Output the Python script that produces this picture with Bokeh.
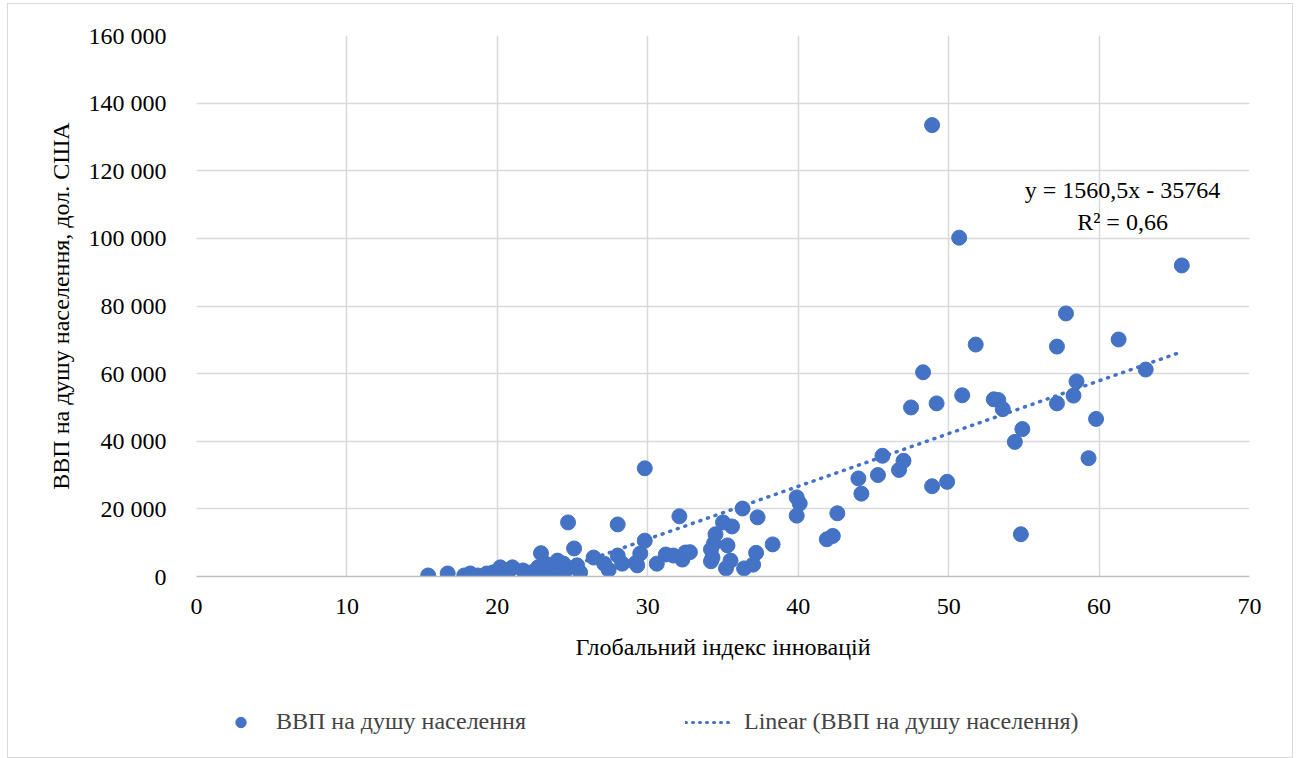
from bokeh.plotting import figure
from bokeh.layouts import column
from bokeh.models import (ColumnDataSource, Legend, LegendItem, Label, FixedTicker)
from bokeh.embed import file_html
from bokeh.resources import INLINE

# ---- data ----
gii = [15.4, 16.7, 17.8, 18.2, 18.7, 19.3, 19.7, 20.0, 20.2, 20.4,
       20.7, 21.0, 21.7, 22.2, 22.4, 22.7, 22.9, 23.0, 23.2, 23.5,
       23.7, 24.0, 24.2, 24.4, 24.5, 24.7, 25.1, 25.5, 25.3, 26.4,
       27.1, 27.4, 28.0, 28.0, 28.3, 29.2, 29.5, 29.3, 29.8, 29.8,
       30.6, 31.2, 31.7, 32.1, 32.3, 32.5, 32.8, 34.2, 34.3, 34.2,
       34.4, 34.5, 35.0, 35.3, 35.6, 35.2, 35.5, 36.3, 36.4, 37.0,
       37.2, 37.3, 38.3, 39.9, 40.1, 39.9, 41.9, 42.3, 42.6, 44.0,
       44.2, 45.3, 45.6, 46.7, 47.0, 47.5, 48.3, 48.9, 48.9, 49.2,
       49.9, 50.7, 50.9, 51.8, 53.0, 53.3, 53.6, 54.4, 54.8, 54.9,
       57.2, 57.2, 57.8, 58.3, 58.5, 59.3, 59.8, 61.3, 63.1, 65.5]
gdp = [300, 900, 300, 900, 300, 900, 1200, 100, 2700, 300,
       1000, 2700, 1800, 1200, 100, 2700, 6900, 500, 3800, 1800,
       500, 4700, 300, 3800, 1500, 16000, 8300, 1200, 3300, 5600,
       3800, 2000, 6200, 15400, 3800, 4000, 6800, 3300, 10600, 32000,
       3800, 6500, 6200, 17800, 5000, 7100, 7200, 4500, 5600, 8000,
       9800, 12500, 16000, 9200, 14800, 2400, 4700, 20100, 2400, 3500,
       7000, 17500, 9500, 23400, 21600, 18000, 11000, 12000, 18700, 29000,
       24500, 30000, 35700, 31500, 34200, 50000, 60400, 133500, 26700, 51200,
       28000, 100200, 53600, 68600, 52400, 52200, 49500, 39800, 12500, 43600,
       68000, 51200, 77800, 53500, 57700, 35000, 46600, 70100, 61200, 92000]

trend_slope = 1560.5
trend_intercept = -35764
trend_text = ["y = 1560,5x - 35764", "R² = 0,66"]

x_ticks = [0, 10, 20, 30, 40, 50, 60, 70]
y_ticks = [0, 20000, 40000, 60000, 80000, 100000, 120000, 140000, 160000]
y_tick_labels = ["0", "20 000", "40 000", "60 000", "80 000", "100 000",
                 "120 000", "140 000", "160 000"]

series_name = "ВВП на душу населення"
trend_name = "Linear (ВВП на душу населення)"
x_title = "Глобальний індекс інновацій"
y_title = "ВВП на душу населення, дол. США"

BLUE = "#4472C4"
GRID = "#d9d9d9"
FONT = "Liberation Serif"
FS = "24px"

# ---- main chart ----
p = figure(width=1284, height=676, output_backend="svg", toolbar_location=None,
           x_range=(0, 70), y_range=(0, 160000),
           min_border_left=188, min_border_right=43, min_border_top=31,
           min_border_bottom=104)
p.outline_line_color = None
p.background_fill_color = "white"
p.border_fill_color = "white"

p.xgrid.ticker = FixedTicker(ticks=x_ticks)
p.ygrid.ticker = FixedTicker(ticks=y_ticks)
p.xgrid.grid_line_color = GRID
p.ygrid.grid_line_color = GRID
p.xgrid.grid_line_width = 1.5
p.ygrid.grid_line_width = 1.5

p.xaxis.ticker = FixedTicker(ticks=x_ticks)
p.yaxis.ticker = FixedTicker(ticks=y_ticks)
p.yaxis.major_label_overrides = {t: l for t, l in zip(y_ticks, y_tick_labels)}
for ax in (p.xaxis, p.yaxis):
    ax.major_tick_line_color = None
    ax.minor_tick_line_color = None
    ax.major_label_text_font = FONT
    ax.major_label_text_font_size = FS
    ax.major_label_text_color = "black"
    ax.axis_label_text_font = FONT
    ax.axis_label_text_font_size = FS
    ax.axis_label_text_font_style = "normal"
    ax.axis_label_text_color = "black"
p.xaxis.axis_line_color = "#bfbfbf"
p.xaxis.axis_line_width = 1.5
p.yaxis.axis_line_color = None
p.xaxis.major_label_standoff = 16
p.yaxis.major_label_standoff = 24
p.xaxis.axis_label = x_title
p.yaxis.axis_label = y_title
p.xaxis.axis_label_standoff = 17
p.yaxis.axis_label_standoff = 12

src = ColumnDataSource(dict(x=gii, y=gdp))
pts = p.scatter("x", "y", source=src, size=15, fill_color=BLUE, line_color=BLUE)

tx = [min(gii), max(gii)]
ty = [trend_slope * v + trend_intercept for v in tx]
tsrc = ColumnDataSource(dict(x=tx, y=ty))
tl = p.line("x", "y", source=tsrc, line_color=BLUE, line_width=3.5,
            line_dash="1 7", line_cap="round")

lx = 61.56
p.add_layout(Label(x=lx, y=114200, text=trend_text[0], text_align="center",
                   text_baseline="middle", text_font=FONT, text_font_size=FS,
                   text_color="black"))
p.add_layout(Label(x=lx, y=104700, text=trend_text[1], text_align="center",
                   text_baseline="middle", text_font=FONT, text_font_size=FS,
                   text_color="black"))

# ---- legend strip ----
lg = figure(width=1284, height=77, output_backend="svg", toolbar_location=None,
            x_range=(0, 1), y_range=(0, 1), min_border=0)
lg.axis.visible = False
lg.grid.visible = False
lg.outline_line_color = None
lg_pts = lg.scatter("x", "y", source=src, size=15, fill_color=BLUE, line_color=BLUE)
lg_tl = lg.line("x", "y", source=tsrc, line_color=BLUE, line_width=3,
                line_dash="1 6", line_cap="round")
leg = Legend(items=[LegendItem(label=series_name, renderers=[lg_pts]),
                    LegendItem(label=trend_name, renderers=[lg_tl])],
             orientation="horizontal", location=(21, 22), glyph_width=47,
             glyph_height=26, label_standoff=12, spacing=159, padding=0,
             margin=0, border_line_color=None, background_fill_alpha=0,
             label_text_font=FONT, label_text_font_size=FS, label_height=26)
lg.add_layout(leg)

layout = column(p, lg, margin=(3, 0, 0, 7), spacing=0,
                styles={"border": "1px solid #d9d9d9"})

open("out.html", "w").write(file_html(layout, INLINE))
